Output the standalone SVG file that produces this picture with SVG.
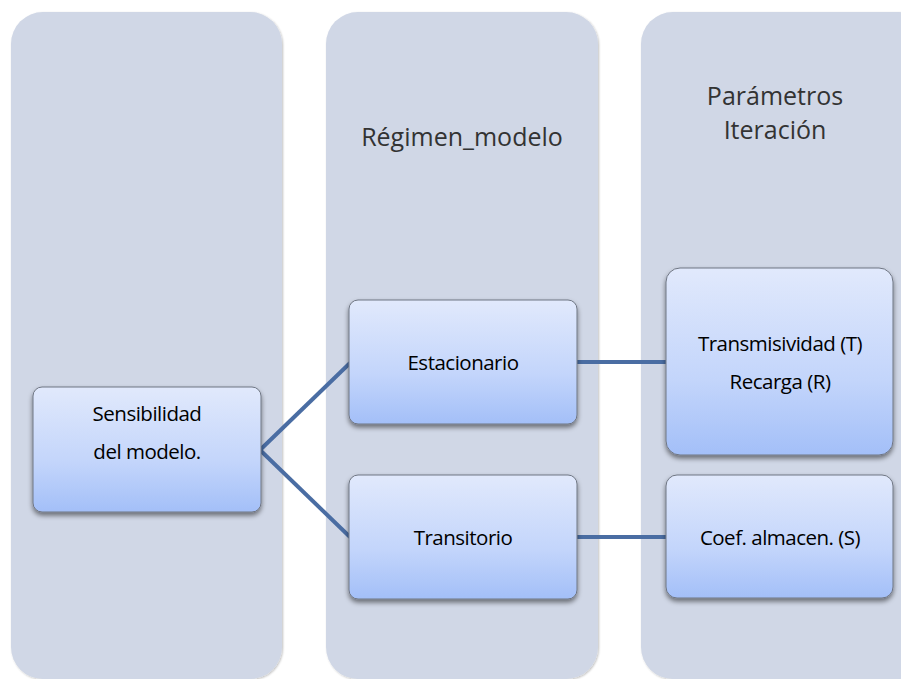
<svg xmlns="http://www.w3.org/2000/svg" width="901" height="679" viewBox="0 0 901 679">
<defs>
<linearGradient id="g" x1="0" y1="0" x2="0" y2="1">
<stop offset="0" stop-color="#e1e9fc"/>
<stop offset="0.6" stop-color="#c3d5fb"/>
<stop offset="1" stop-color="#a3bff8"/>
</linearGradient>
<filter id="sh" x="-10%" y="-10%" width="120%" height="130%">
<feGaussianBlur in="SourceAlpha" stdDeviation="2.5"/>
<feOffset dx="0" dy="3" result="b"/>
<feComponentTransfer><feFuncA type="linear" slope="0.5"/></feComponentTransfer>
<feMerge><feMergeNode/><feMergeNode in="SourceGraphic"/></feMerge>
</filter>
<filter id="csh" x="-5%" y="-5%" width="110%" height="110%">
<feGaussianBlur in="SourceAlpha" stdDeviation="1.2"/>
<feOffset dx="1" dy="1"/>
<feComponentTransfer><feFuncA type="linear" slope="0.25"/></feComponentTransfer>
<feMerge><feMergeNode/><feMergeNode in="SourceGraphic"/></feMerge>
</filter>
</defs>
<style>
.col{fill:#d0d7e6;filter:url(#csh)}
.box{fill:url(#g);stroke:#6f7683;stroke-width:1;filter:url(#sh)}
.hdr{font-family:"Open Sans","Noto Sans",sans-serif;font-size:25px;fill:#333;text-anchor:middle}
.lbl{font-family:"Open Sans","Noto Sans",sans-serif;font-size:20.5px;fill:#000;text-anchor:middle;letter-spacing:-0.5px}
.con{stroke:#4a6da3;stroke-width:4;fill:none}
</style>
<rect width="901" height="679" fill="#ffffff"/>
<g id="col1"><rect class="col" x="11" y="12" width="271" height="667" rx="32"/></g>
<g id="col2"><rect class="col" x="326" y="12" width="272" height="667" rx="32"/>
<text class="hdr" x="462" y="146">Régimen_modelo</text></g>
<g id="col3"><rect class="col" x="641" y="12" width="290" height="667" rx="32"/>
<text class="hdr" x="775" y="105">Parámetros</text>
<text class="hdr" x="775" y="139">Iteración</text></g>
<g id="connectors">
<line class="con" x1="260" y1="450" x2="350" y2="363"/>
<line class="con" x1="260" y1="450" x2="350" y2="537"/>
<line class="con" x1="577" y1="362" x2="667" y2="362"/>
<line class="con" x1="577" y1="537" x2="667" y2="537"/>
</g>
<g id="sensibilidad"><rect class="box" x="33" y="387" width="228" height="125" rx="9"/>
<text class="lbl" x="147" y="421">Sensibilidad</text>
<text class="lbl" x="147" y="459">del modelo.</text></g>
<g id="estacionario"><rect class="box" x="349" y="300" width="228" height="124" rx="9"/>
<text class="lbl" x="463" y="370">Estacionario</text></g>
<g id="transitorio"><rect class="box" x="349" y="475" width="228" height="124" rx="9"/>
<text class="lbl" x="463" y="545">Transitorio</text></g>
<g id="transmisividad"><rect class="box" x="666" y="268" width="227" height="187" rx="14"/>
<text class="lbl" x="780" y="351">Transmisividad (T)</text>
<text class="lbl" x="780" y="389">Recarga (R)</text></g>
<g id="coef"><rect class="box" x="666" y="475" width="227" height="123" rx="11"/>
<text class="lbl" x="780" y="545">Coef. almacen. (S)</text></g>
</svg>
